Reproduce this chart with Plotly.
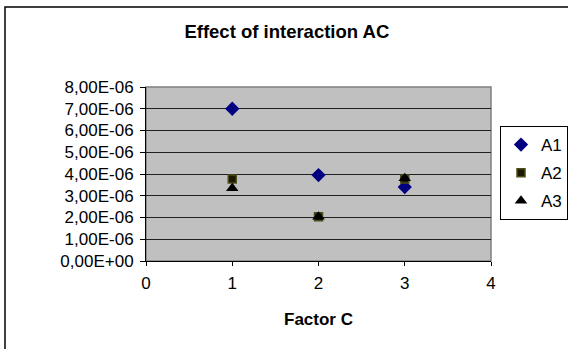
import plotly.graph_objects as go

factor_c = [1, 2, 3]
a1 = [7.00e-06, 3.95e-06, 3.40e-06]
a2 = [3.77e-06, 2.03e-06, 3.77e-06]
a3 = [3.35e-06, 2.03e-06, 3.80e-06]
series_names = ["A1", "A2", "A3"]
y_tickvals = [0, 1e-6, 2e-6, 3e-6, 4e-6, 5e-6, 6e-6, 7e-6, 8e-6]
y_ticktext = ["0,00E+00", "1,00E-06", "2,00E-06", "3,00E-06", "4,00E-06",
              "5,00E-06", "6,00E-06", "7,00E-06", "8,00E-06"]

FONT = "Liberation Sans, Arial, sans-serif"

fig = go.Figure()
fig.add_trace(go.Scatter(x=factor_c, y=a1, mode="markers", name=series_names[0],
                         legendgroup="g1",
                         marker=dict(symbol="diamond", size=11, color="#000080",
                                     line=dict(width=0))))
fig.add_trace(go.Scatter(x=factor_c, y=a2, mode="markers", name=series_names[1],
                         legendgroup="g2",
                         marker=dict(symbol="square", size=8, color="#1a1a00",
                                     line=dict(width=1.5, color="#4d4d1a"))))
fig.add_trace(go.Scatter(x=factor_c, y=a3, mode="markers", name=series_names[2],
                         legendgroup="g3",
                         marker=dict(symbol="triangle-up", size=11, color="#000000",
                                     line=dict(width=0))))

fig.update_layout(
    width=568, height=349,
    margin=dict(l=146, r=77, t=87, b=88, autoexpand=False),
    paper_bgcolor="white",
    plot_bgcolor="#C0C0C0",
    font=dict(family=FONT, size=16, color="black"),
    title=dict(text="<b>Effect of interaction AC</b>", x=0.505, xanchor="center",
               y=1 - 32 / 349, yanchor="middle",
               font=dict(family=FONT, size=18.5, color="black")),
    showlegend=True,
    legend=dict(x=(500 - 146) / 345, xanchor="left", y=(261 - 126) / 174, yanchor="top",
                bgcolor="white", bordercolor="black", borderwidth=1,
                font=dict(family=FONT, size=17, color="black"),
                tracegroupgap=3, itemwidth=30),
    xaxis=dict(range=[0, 4], tickvals=[0, 1, 2, 3, 4], showgrid=False,
               zeroline=False, showline=True, linecolor="black", linewidth=1,
               ticks="outside", ticklen=4, tickcolor="black", ticklabelstandoff=3,
               tickfont=dict(family=FONT, size=17),
               title=dict(text="<b>Factor C</b>", standoff=20,
                          font=dict(family=FONT, size=17))),
    yaxis=dict(range=[0, 8e-6], tickvals=y_tickvals, ticktext=y_ticktext,
               showgrid=True, gridcolor="#202020", gridwidth=1,
               zeroline=False, showline=True, linecolor="black", linewidth=1,
               ticks="outside", ticklen=5, tickcolor="black", ticklabelstandoff=3,
               tickfont=dict(family=FONT, size=17)),
    shapes=[
        dict(type="rect", xref="paper", yref="paper", x0=0, x1=1, y0=0, y1=1,
             line=dict(color="#808080", width=1.5), layer="below"),
        dict(type="rect", xref="paper", yref="paper",
             x0=(5 - 146) / 345, x1=1.4, y0=-0.7, y1=1 + (87 - 7) / 174,
             line=dict(color="black", width=1.5), layer="below"),
    ],
)

fig.write_html("out.html")
